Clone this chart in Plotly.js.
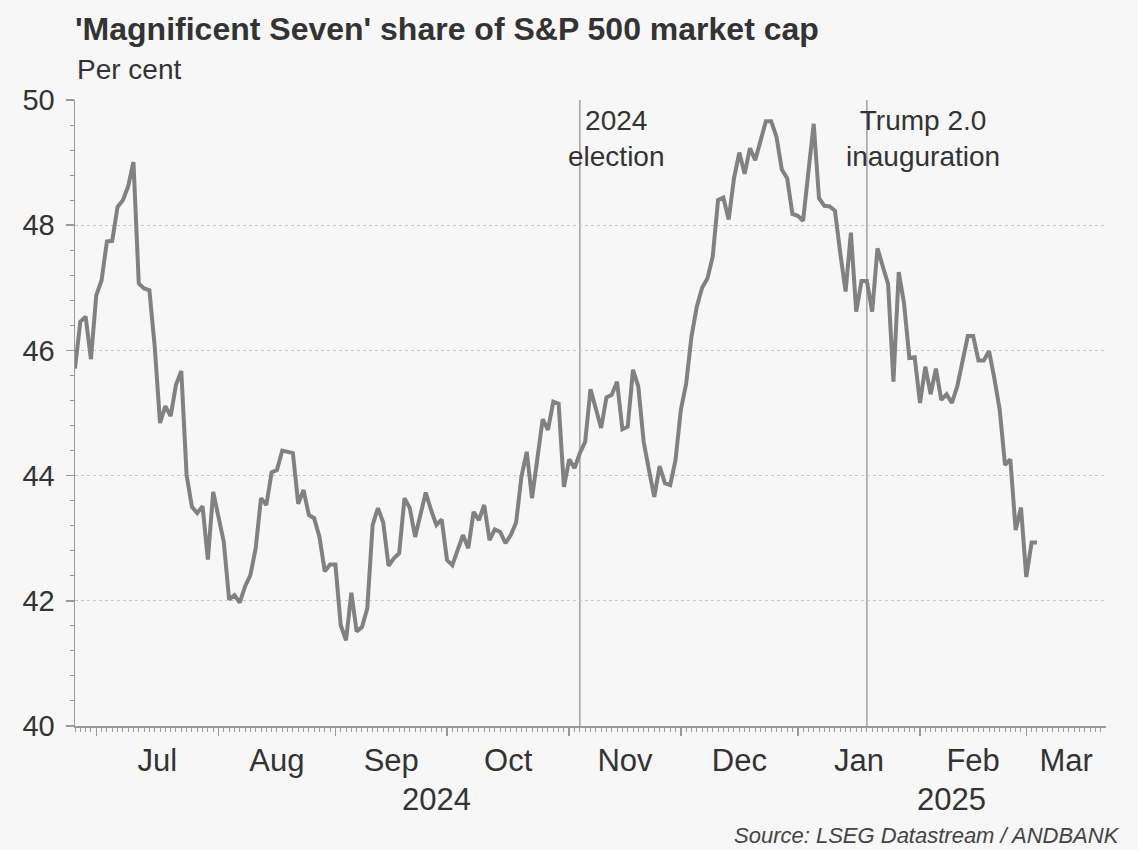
<!DOCTYPE html>
<html>
<head>
<meta charset="utf-8">
<script src="https://cdn.plot.ly/plotly-3.0.1.min.js"></script>
<style>html,body{margin:0;padding:0;background:#f7f7f7;}</style>
</head>
<body>
<div id="chart" style="width:1138px;height:850px;"></div>
<script>
// Trading days (weekdays) and the Magnificent Seven share of S&P 500 market cap, per cent
var dates = [
  '2024-06-25','2024-06-26','2024-06-27','2024-06-28',
  '2024-07-01','2024-07-02','2024-07-03','2024-07-04','2024-07-05',
  '2024-07-08','2024-07-09','2024-07-10','2024-07-11','2024-07-12',
  '2024-07-15','2024-07-16','2024-07-17','2024-07-18','2024-07-19',
  '2024-07-22','2024-07-23','2024-07-24','2024-07-25','2024-07-26',
  '2024-07-29','2024-07-30','2024-07-31','2024-08-01','2024-08-02',
  '2024-08-05','2024-08-06','2024-08-07','2024-08-08','2024-08-09',
  '2024-08-12','2024-08-13','2024-08-14','2024-08-15','2024-08-16',
  '2024-08-19','2024-08-20','2024-08-21','2024-08-22','2024-08-23',
  '2024-08-26','2024-08-27','2024-08-28','2024-08-29','2024-08-30',
  '2024-09-02','2024-09-03','2024-09-04','2024-09-05','2024-09-06',
  '2024-09-09','2024-09-10','2024-09-11','2024-09-12','2024-09-13',
  '2024-09-16','2024-09-17','2024-09-18','2024-09-19','2024-09-20',
  '2024-09-23','2024-09-24','2024-09-25','2024-09-26','2024-09-27',
  '2024-09-30','2024-10-01','2024-10-02','2024-10-03','2024-10-04',
  '2024-10-07','2024-10-08','2024-10-09','2024-10-10','2024-10-11',
  '2024-10-14','2024-10-15','2024-10-16','2024-10-17','2024-10-18',
  '2024-10-21','2024-10-22','2024-10-23','2024-10-24','2024-10-25',
  '2024-10-28','2024-10-29','2024-10-30','2024-10-31','2024-11-01',
  '2024-11-04','2024-11-05','2024-11-06','2024-11-07','2024-11-08',
  '2024-11-11','2024-11-12','2024-11-13','2024-11-14','2024-11-15',
  '2024-11-18','2024-11-19','2024-11-20','2024-11-21','2024-11-22',
  '2024-11-25','2024-11-26','2024-11-27','2024-11-28','2024-11-29',
  '2024-12-02','2024-12-03','2024-12-04','2024-12-05','2024-12-06',
  '2024-12-09','2024-12-10','2024-12-11','2024-12-12','2024-12-13',
  '2024-12-16','2024-12-17','2024-12-18','2024-12-19','2024-12-20',
  '2024-12-23','2024-12-24','2024-12-25','2024-12-26','2024-12-27',
  '2024-12-30','2024-12-31','2025-01-01','2025-01-02','2025-01-03',
  '2025-01-06','2025-01-07','2025-01-08','2025-01-09','2025-01-10',
  '2025-01-13','2025-01-14','2025-01-15','2025-01-16','2025-01-17',
  '2025-01-20','2025-01-21','2025-01-22','2025-01-23','2025-01-24',
  '2025-01-27','2025-01-28','2025-01-29','2025-01-30','2025-01-31',
  '2025-02-03','2025-02-04','2025-02-05','2025-02-06','2025-02-07',
  '2025-02-10','2025-02-11','2025-02-12','2025-02-13','2025-02-14',
  '2025-02-17','2025-02-18','2025-02-19','2025-02-20','2025-02-21',
  '2025-02-24','2025-02-25','2025-02-26','2025-02-27','2025-02-28',
  '2025-03-03','2025-03-04','2025-03-05'
];
var share = [
  45.71, 46.46, 46.54, 45.86,
  46.88, 47.12, 47.74, 47.75, 48.29,
  48.40, 48.62, 49.01, 47.07, 46.99,
  46.96, 46.06, 44.84, 45.11, 44.95,
  45.45, 45.67, 44.01, 43.50, 43.40,
  43.51, 42.66, 43.74, 43.34, 42.94,
  42.02, 42.09, 41.97, 42.23, 42.41,
  42.84, 43.64, 43.53, 44.05, 44.09,
  44.40, 44.38, 44.36, 43.55, 43.77,
  43.37, 43.32, 43.02, 42.47, 42.58,
  42.58, 41.61, 41.37, 42.13, 41.51,
  41.58, 41.88, 43.21, 43.48, 43.25,
  42.56, 42.68, 42.76, 43.64, 43.48,
  43.02, 43.40, 43.73, 43.45, 43.21,
  43.30, 42.65, 42.57, 42.81, 43.05,
  42.84, 43.42, 43.29, 43.53, 42.97,
  43.14, 43.10, 42.92, 43.05, 43.25,
  43.98, 44.38, 43.64, 44.25, 44.90,
  44.73, 45.18, 45.15, 43.82, 44.26,
  44.12, 44.36, 44.54, 45.38, 45.05,
  44.76, 45.25, 45.29, 45.50, 44.74,
  44.78, 45.69, 45.42, 44.54, 44.09,
  43.66, 44.15, 43.88, 43.85, 44.25,
  45.05, 45.47, 46.22, 46.70, 47.00,
  47.15, 47.50, 48.40, 48.44, 48.09,
  48.75, 49.16, 48.82, 49.23, 49.04,
  49.33, 49.66, 49.66, 49.41, 48.89,
  48.75, 48.18, 48.15, 48.07, 48.83,
  49.62, 48.43, 48.31, 48.30, 48.23,
  47.55, 46.94, 47.88, 46.62, 47.11,
  47.11, 46.62, 47.63, 47.34, 47.06,
  45.50, 47.25, 46.75, 45.88, 45.89,
  45.16, 45.74, 45.30, 45.71, 45.21,
  45.30, 45.16, 45.42, 45.82, 46.23,
  46.23, 45.84, 45.84, 45.99, 45.55,
  45.05, 44.17, 44.26, 43.13, 43.49,
  42.38, 42.93, 42.93
];

// Axis tick data
var monthStarts = ['2024-07-01','2024-08-01','2024-09-02','2024-10-01','2024-11-01','2024-12-02','2025-01-01','2025-02-03','2025-03-03'];
var monthLabelDates = ['2024-07-16 12:00','2024-08-16','2024-09-16 12:00','2024-10-16 12:00','2024-11-15 12:00','2024-12-17','2025-01-16 12:00','2025-02-17','2025-03-12 12:00'];
var monthNames = ['Jul','Aug','Sep','Oct','Nov','Dec','Jan','Feb','Mar'];
var yearLabels = ['2024','2025'];
var yearLabelDates = ['2024-09-27','2025-02-11'];

// Events
var eventDates = ['2024-11-05','2025-01-20'];
var eventLabels = ['2024<br>election','Trump 2.0<br>inauguration'];
var eventShift = [37, 56];

var FONT = 'Liberation Sans, Arial, Helvetica, sans-serif';
var TXT = '#333333';
var AX = '#9a9a9a';
var xRange = ['2024-06-25','2025-03-21 23:59'];
var breaks = [{bounds: ['sat', 'mon']}];

// minor tick marks: one per weekday across the axis (axis decoration only)
var minorTicks = [];
(function () {
  var d = new Date(Date.UTC(2024, 5, 25));
  var end = Date.UTC(2025, 2, 21);
  while (d.getTime() <= end) {
    var wd = d.getUTCDay();
    if (wd !== 0 && wd !== 6) minorTicks.push(d.toISOString().slice(0, 10));
    d = new Date(d.getTime() + 86400000);
  }
})();

var traces = [
  {
    x: dates, y: share, type: 'scatter', mode: 'lines',
    line: {color: '#818181', width: 4},
    hoverinfo: 'x+y', showlegend: false
  },
  {
    x: [], y: [], type: 'scatter', mode: 'lines',
    xaxis: 'x2', yaxis: 'y', hoverinfo: 'skip', showlegend: false
  }
];

var annotations = [
  {xref: 'paper', yref: 'paper', x: 0, y: 1.0495, xanchor: 'left', yanchor: 'middle',
   text: 'Per cent', showarrow: false, font: {family: FONT, size: 28, color: TXT}},
  {xref: 'paper', yref: 'paper', x: 1.0155, y: -0.1757, xanchor: 'right', yanchor: 'middle',
   text: 'Source: LSEG Datastream / ANDBANK', showarrow: false,
   font: {family: FONT, size: 22, color: '#444444', style: 'italic'}}
];
for (var i = 0; i < yearLabels.length; i++) {
  annotations.push({xref: 'x', yref: 'paper', x: yearLabelDates[i], y: -0.118,
    xanchor: 'center', yanchor: 'middle', text: yearLabels[i], showarrow: false,
    font: {family: FONT, size: 31, color: TXT}});
}
var shapes = [];
for (var j = 0; j < eventDates.length; j++) {
  shapes.push({type: 'line', xref: 'x', yref: 'paper', x0: eventDates[j], x1: eventDates[j],
    y0: 0, y1: 1, line: {color: '#a0a0a0', width: 1.5}, layer: 'below'});
  annotations.push({xref: 'x', yref: 'paper', x: eventDates[j], y: 1, xanchor: 'center',
    yanchor: 'top', xshift: eventShift[j], yshift: -3, text: eventLabels[j], align: 'center',
    showarrow: false, font: {family: FONT, size: 28, color: TXT}});
}

var layout = {
  width: 1138, height: 850,
  paper_bgcolor: '#f7f7f7', plot_bgcolor: '#f7f7f7',
  margin: {l: 75, r: 32, t: 100, b: 124},
  font: {family: FONT, color: TXT},
  title: {
    text: "<b>'Magnificent Seven' share of S&P 500 market cap</b>",
    xref: 'container', yref: 'container', x: 75 / 1138, xanchor: 'left',
    y: 1 - 29 / 850, yanchor: 'middle',
    font: {family: FONT, size: 32, color: TXT}
  },
  xaxis: {
    type: 'date', range: xRange, rangebreaks: breaks,
    tickmode: 'array', tickvals: monthStarts, showticklabels: false,
    ticks: 'outside', ticklen: 8, tickwidth: 1.5, tickcolor: AX,
    minor: {ticks: 'outside', ticklen: 4, tickwidth: 1, tickcolor: AX,
            tickmode: 'array', tickvals: minorTicks, showgrid: false},
    showgrid: false, zeroline: false,
    showline: true, linecolor: AX, linewidth: 1.5
  },
  xaxis2: {
    type: 'date', range: xRange, rangebreaks: breaks,
    overlaying: 'x', anchor: 'y', side: 'bottom',
    tickmode: 'array', tickvals: monthLabelDates, ticktext: monthNames,
    ticks: '', showgrid: false, zeroline: false, showline: false,
    ticklabelstandoff: 13,
    tickfont: {family: FONT, size: 31, color: TXT}
  },
  yaxis: {
    range: [40, 50], tickmode: 'linear', tick0: 40, dtick: 2,
    ticks: 'outside', ticklen: 8, tickwidth: 1.5, tickcolor: AX,
    minor: {ticks: 'outside', ticklen: 4, tickwidth: 1, tickcolor: AX,
            tick0: 40, dtick: 0.4, showgrid: false},
    showgrid: true, gridcolor: '#c8c8c8', griddash: 'dot', gridwidth: 1,
    zeroline: false, showline: true, linecolor: AX, linewidth: 1.5,
    ticklabelstandoff: 5,
    tickfont: {family: FONT, size: 29, color: TXT}
  },
  shapes: shapes,
  annotations: annotations,
  showlegend: false
};

Plotly.newPlot('chart', traces, layout, {displayModeBar: false, staticPlot: true});
</script>
</body>
</html>
